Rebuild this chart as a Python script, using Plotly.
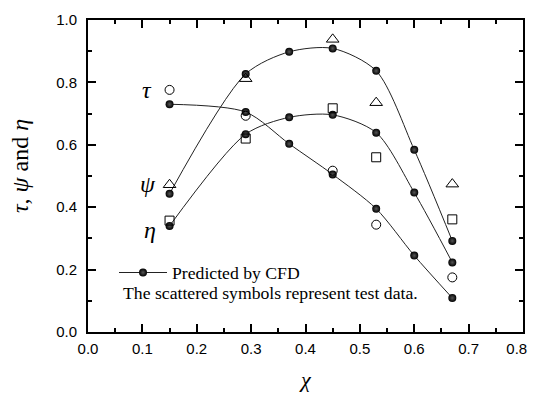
import plotly.graph_objects as go

# CFD predictions
x_cfd = [0.15, 0.29, 0.37, 0.45, 0.53, 0.60, 0.67]
psi_cfd = [0.443, 0.827, 0.898, 0.909, 0.837, 0.584, 0.292]
eta_cfd = [0.340, 0.634, 0.688, 0.696, 0.639, 0.447, 0.223]
tau_cfd = [0.730, 0.705, 0.603, 0.505, 0.395, 0.245, 0.109]

# Test data
x_test = [0.15, 0.29, 0.45, 0.53, 0.67]
psi_test = [0.472, 0.812, 0.938, 0.735, 0.474]
eta_test = [0.357, 0.620, 0.717, 0.560, 0.361]
tau_test = [0.776, 0.693, 0.517, 0.344, 0.175]

# x tick labels (last one nudged left so it stays inside the page, as in the original)
x_tickvals = [0.0, 0.1, 0.2, 0.3, 0.4, 0.5, 0.6, 0.7, 0.8]
x_ticktext = ["0.0", "0.1", "0.2", "0.3", "0.4", "0.5", "0.6", "0.7", "0.8\u00a0\u00a0\u00a0"]

serif = "Liberation Serif, Times New Roman, serif"
sans = "Liberation Sans, Arial, sans-serif"

fig = go.Figure()

first = True
for ys in (psi_cfd, eta_cfd, tau_cfd):
    fig.add_trace(go.Scatter(
        x=x_cfd, y=ys, mode="lines+markers",
        line=dict(color="#222", width=1, shape="spline", smoothing=0.8),
        marker=dict(symbol="circle", size=8, color="black",
                    gradient=dict(type="radial", color="#555")),
        name="Predicted by CFD", showlegend=first))
    first = False

for ys, sym, sz in ((psi_test, "triangle-up-open", 11), (eta_test, "square-open", 9),
                    (tau_test, "circle-open", 9)):
    fig.add_trace(go.Scatter(
        x=x_test, y=ys, mode="markers",
        marker=dict(symbol=sym, size=sz, color="black", line=dict(width=1, color="black")),
        showlegend=False))

axis_common = dict(
    showline=True, linewidth=2, linecolor="black", mirror="ticks",
    ticks="inside", ticklen=8, tickwidth=2, tickcolor="black",
    showgrid=False, zeroline=False, automargin=False,
    ticklabeloverflow="allow",
    tickfont=dict(family=sans, size=15, color="black"),
)

fig.update_xaxes(range=[0, 0.8], tickvals=x_tickvals, ticktext=x_ticktext, ticklabelstandoff=2,
                 minor=dict(ticks="inside", ticklen=4, tickwidth=2, dtick=0.05, tickcolor="black"),
                 **axis_common)
fig.update_yaxes(range=[0, 1.0], dtick=0.2, tick0=0, tickformat=".1f", ticklabelstandoff=6,
                 minor=dict(ticks="inside", ticklen=4, tickwidth=2, dtick=0.1, tickcolor="black"),
                 **axis_common)

# page body has an 8px margin, so the figure starts at (8, 8) in the window
OFF = 8
W, H = 536 - OFF, 397 - OFF
L, T = 88 - OFF, 20 - OFF
R, B = 13, 65
pw, ph = W - L - R, H - T - B

def px(xw):
    return (xw - OFF - L) / pw

def py(yw):
    return (H - B - (yw - OFF)) / ph

annotations = [
    dict(text="<i>τ</i>", x=px(147), y=py(90), font=dict(family=serif, size=24)),
    dict(text="<i>ψ</i>", x=px(148), y=py(184), font=dict(family=serif, size=24)),
    dict(text="<i>η</i>", x=px(150), y=py(230), font=dict(family=serif, size=24)),
    dict(text="<i>χ</i>", x=px(305), y=py(380), font=dict(family=serif, size=22)),
    dict(text="<i>τ</i>, <i>ψ</i> and <i>η</i>", x=px(20), y=py(166), textangle=-90,
         font=dict(family=serif, size=24)),
    dict(text="The scattered symbols represent test data.", x=px(121), y=py(293),
         xanchor="left", font=dict(family=serif, size=17.7)),
]
for a in annotations:
    a.setdefault("xanchor", "center")
    a.update(xref="paper", yref="paper", showarrow=False, yanchor="middle")
    a["font"]["color"] = "black"

fig.update_layout(
    width=W, height=H,
    margin=dict(l=L, r=R, t=T, b=B),
    paper_bgcolor="white", plot_bgcolor="white",
    annotations=annotations,
    legend=dict(x=px(114), y=py(273), xanchor="left", yanchor="middle", itemwidth=48,
                bgcolor="rgba(0,0,0,0)", font=dict(family=serif, size=17.7, color="black")),
)

fig.write_html("out.html")
